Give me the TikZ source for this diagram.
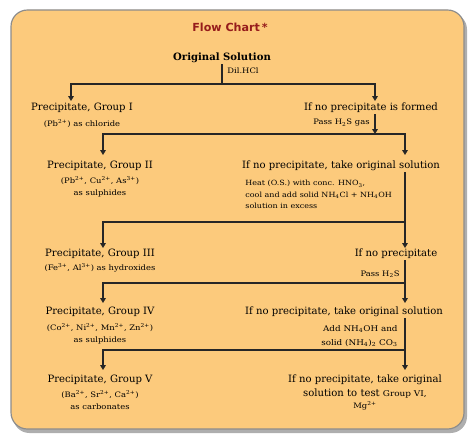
\documentclass[tikz,border=0pt]{standalone}
\usepackage{fontspec}
\setmainfont{DejaVu Serif}
\newfontfamily\titlefont{DejaVu Sans}
\newfontfamily\ionfont[FakeStretch=1.12]{DejaVu Serif}
\usetikzlibrary{arrows.meta}
\definecolor{chartbg}{RGB}{252,202,124}
\definecolor{chartred}{RGB}{150,28,28}
\definecolor{chartedge}{RGB}{140,140,140}
\tikzset{
  lab/.style={font=\fontsize{8.6}{10}\selectfont, inner sep=1pt},
  ion/.style={font=\ionfont\fontsize{6.4}{10.5}\selectfont, inner sep=1pt, align=center},
  arr/.style={-{Triangle[width=4.8pt,length=4.2pt]}},
  flow/.style={line width=1pt, draw=black!85}
}
\begin{document}
\begin{tikzpicture}[x=0.3mm, y=-0.3mm]
\useasboundingbox (0,0) rectangle (474,441);
% card
\fill[chartedge!70, rounded corners=14] (13,13) rectangle (467,433);
\filldraw[fill=chartbg, draw=chartedge, line width=1pt, rounded corners=14] (11,10) rectangle (464,429);
\node[font=\titlefont\bfseries\fontsize{9.5}{11}\selectfont, text=chartred] (title) at (230,27) {Flow Chart\,*};

% original solution
\node[lab] (orig) at (222,58) {\textbf{Original Solution}};
\node[ion, anchor=west] (dil) at (226,71) {Dil.HCl};
\coordinate (s1) at (222,84);
\coordinate (a1) at (71,101);
\coordinate (b1) at (375,101);
\draw[flow] (orig) -- (s1);
\draw[flow, arr] (s1) -| (a1);
\draw[flow, arr] (s1) -| (b1);

% group I
\node[lab] (p1) at (82,108) {Precipitate, Group I};
\node[ion] (p1i) at (82,124) {(Pb\textsuperscript{2+}) as chloride};
\node[lab] (nf) at (371,108) {If no precipitate is formed};
\node[ion, anchor=east] (pass1) at (371,123) {Pass H\textsubscript{2}S gas};
\coordinate (s2) at (375,134);
\coordinate (a2) at (103,155);
\coordinate (b2) at (405,155);
\draw[flow, arr] (nf.south -| b1) -- (s2);
\draw[flow, arr] (s2) -| (a2);
\draw[flow, arr] (s2) -| (b2);

% group II
\node[lab] (p2) at (100,166) {Precipitate, Group II};
\node[ion] (p2i) at (100,187) {(Pb\textsuperscript{2+}, Cu\textsuperscript{2+}, As\textsuperscript{3+})\\as sulphides};
\node[lab] (nop2) at (341,166) {If no precipitate, take original solution};
\node[ion, align=left, anchor=north west, font=\ionfont\fontsize{6.1}{9.6}\selectfont] (heat) at (244,179)
  {Heat (O.S.) with conc. HNO\textsubscript{3},\\cool and add solid NH\textsubscript{4}Cl + NH\textsubscript{4}OH\\solution in excess};
\coordinate (s3) at (405,222);
\coordinate (a3) at (103,248);
\coordinate (b3) at (405,248);
\draw[flow] (nop2.south -| b2) -- (s3);
\draw[flow, arr] (s3) -- (b3);
\draw[flow, arr] (s3) -| (a3);

% group III
\node[lab] (p3) at (100,254) {Precipitate, Group III};
\node[ion] (p3i) at (100,268) {(Fe\textsuperscript{3+}, Al\textsuperscript{3+}) as hydroxides};
\node[lab] (nop3) at (396,254) {If no precipitate};
\node[ion, anchor=east] (pass2) at (401,274) {Pass H\textsubscript{2}S};
\coordinate (s4) at (405,283);
\coordinate (a4) at (103,303);
\coordinate (b4) at (405,303);
\draw[flow] (nop3.south -| b3) -- (s4);
\draw[flow, arr] (s4) -- (b4);
\draw[flow, arr] (s4) -| (a4);

% group IV
\node[lab] (p4) at (100,312) {Precipitate, Group IV};
\node[ion] (p4i) at (100,334) {(Co\textsuperscript{2+}, Ni\textsuperscript{2+}, Mn\textsuperscript{2+}, Zn\textsuperscript{2+})\\as sulphides};
\node[ion, align=right, anchor=east, font=\ionfont\fontsize{6.7}{12.5}\selectfont] (add) at (399,336)
  {Add NH\textsubscript{4}OH and\\solid (NH\textsubscript{4})\textsubscript{2} CO\textsubscript{3}};
\node[lab] (nop4) at (344,312) {If no precipitate, take original solution};
\coordinate (s5) at (405,350);
\coordinate (a5) at (103,370);
\coordinate (b5) at (405,370);
\draw[flow] (nop4.south -| b4) -- (s5);
\draw[flow, arr] (s5) -- (b5);
\draw[flow, arr] (s5) -| (a5);

% group V
\node[lab] (p5) at (100,380) {Precipitate, Group V};
\node[ion] (p5i) at (100,400) {(Ba\textsuperscript{2+}, Sr\textsuperscript{2+}, Ca\textsuperscript{2+})\\as carbonates};
\node[lab] (nop5) at (365,380) {If no precipitate, take original};
\node[lab] (nop5b) at (365,393) {solution to test {\ionfont\fontsize{6.8}{8}\selectfont Group VI,}};
\node[ion] (mg) at (365,406) {Mg\textsuperscript{2+}};
\end{tikzpicture}
\end{document}
